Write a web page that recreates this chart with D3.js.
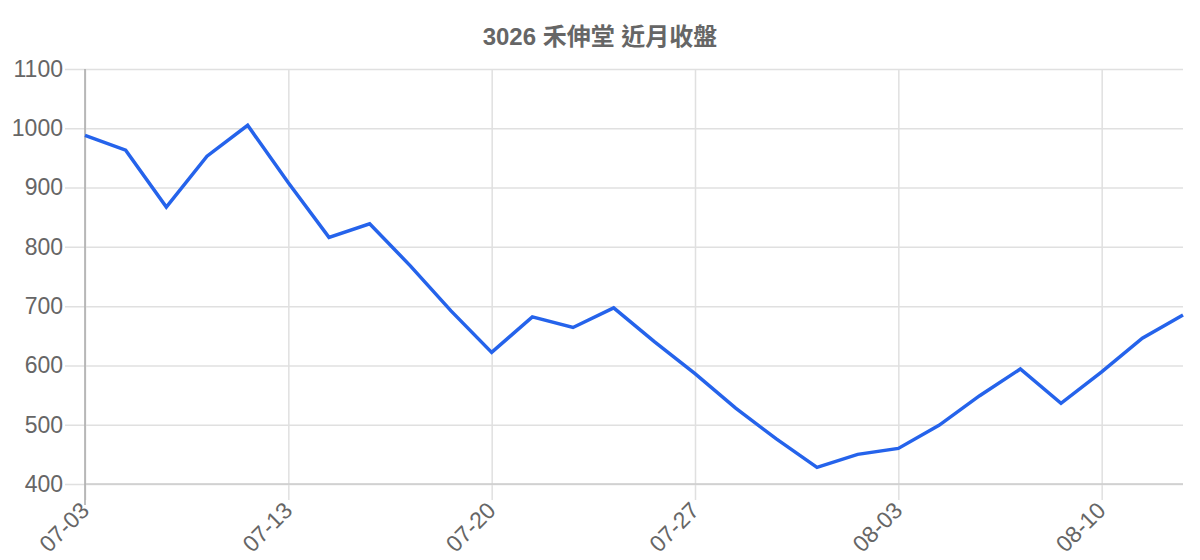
<!DOCTYPE html>
<html>
<head>
<meta charset="utf-8">
<script src="https://cdn.jsdelivr.net/npm/d3@7"></script>
<style>
  html, body { margin: 0; padding: 0; background: #fff; }
  svg { display: block; font-family: "Liberation Sans", Arial, "Noto Sans CJK TC", sans-serif; }
</style>
</head>
<body>
<svg id="chart" width="1200" height="560"></svg>
<script>
// 近月收盤資料
const title = '3026 禾伸堂 近月收盤';
const dates = ['07-03', '07-05', '07-06', '07-07', '07-11', '07-13', '07-14', '07-17', '07-18', '07-19',
  '07-20', '07-21', '07-24', '07-25', '07-26', '07-27', '07-28', '07-31', '08-01', '08-02',
  '08-03', '08-04', '08-07', '08-08', '08-09', '08-10', '08-11', '08-14'];
const closes = [988, 963, 867, 953, 1005, 908, 816, 839, 768, 692,
  622, 682, 664, 697, 640, 586, 528, 476, 428, 450,
  460, 499, 549, 594, 536, 589, 646, 685];
const yTicks = [400, 500, 600, 700, 800, 900, 1000, 1100];
const labelEvery = 5;

const width = 1200;
const height = 560;
const margin = { top: 69, right: 17, bottom: 76, left: 85 };

const svg = d3.select('#chart');

const x = d3.scalePoint()
  .domain(dates)
  .range([margin.left, width - margin.right]);

const y = d3.scaleLinear()
  .domain([400, 1100])
  .range([height - margin.bottom, margin.top]);

// 標題
svg.append('text')
  .attr('x', 600)
  .attr('y', 45)
  .attr('text-anchor', 'middle')
  .style('font-size', '24px')
  .style('font-weight', 'bold')
  .style('fill', '#666')
  .text(title);

// 水平格線 + y 軸
const yAxis = svg.append('g')
  .attr('transform', `translate(${margin.left},0)`)
  .call(d3.axisLeft(y)
    .tickValues(yTicks)
    .tickSize(-(width - margin.left - margin.right))
    .tickPadding(22)
    .tickFormat(d3.format('d')));
yAxis.select('.domain').remove();
yAxis.selectAll('.tick line')
  .attr('x1', -20)
  .attr('stroke', '#e0e0e0')
  .attr('stroke-width', 1.5);
yAxis.selectAll('.tick text')
  .style('font-size', '23px')
  .style('fill', '#666')
  .attr('font-family', null);

// 垂直格線 + x 軸
const xTickVals = dates.filter((d, i) => i % labelEvery === 0);
const xAxis = svg.append('g')
  .attr('transform', `translate(0,${height - margin.bottom})`)
  .call(d3.axisBottom(x)
    .tickValues(xTickVals)
    .tickSize(-(height - margin.top - margin.bottom))
    .tickPadding(0));
xAxis.select('.domain').remove();
xAxis.selectAll('.tick line')
  .attr('y1', 16)
  .attr('stroke', '#e0e0e0')
  .attr('stroke-width', 1.5);
xAxis.selectAll('.tick text')
  .style('font-size', '23px')
  .style('fill', '#666')
  .attr('font-family', null)
  .attr('text-anchor', 'end')
  .attr('dy', null)
  .attr('transform', 'translate(5,28) rotate(-45)');

// 基線與左軸
svg.append('line')
  .attr('x1', margin.left).attr('x2', width - margin.right)
  .attr('y1', y(400)).attr('y2', y(400))
  .attr('stroke', '#ccc').attr('stroke-width', 1.5);
svg.append('line')
  .attr('x1', x(dates[0])).attr('x2', x(dates[0]))
  .attr('y1', margin.top).attr('y2', y(400) + 21)
  .attr('stroke', '#aaa').attr('stroke-width', 1.5);

// 收盤價線
const line = d3.line()
  .x((d, i) => x(dates[i]))
  .y(d => y(d));

svg.append('path')
  .datum(closes)
  .attr('d', line)
  .attr('fill', 'none')
  .attr('stroke', '#2563eb')
  .attr('stroke-width', 3.5)
  .attr('stroke-linejoin', 'miter');
</script>
</body>
</html>
